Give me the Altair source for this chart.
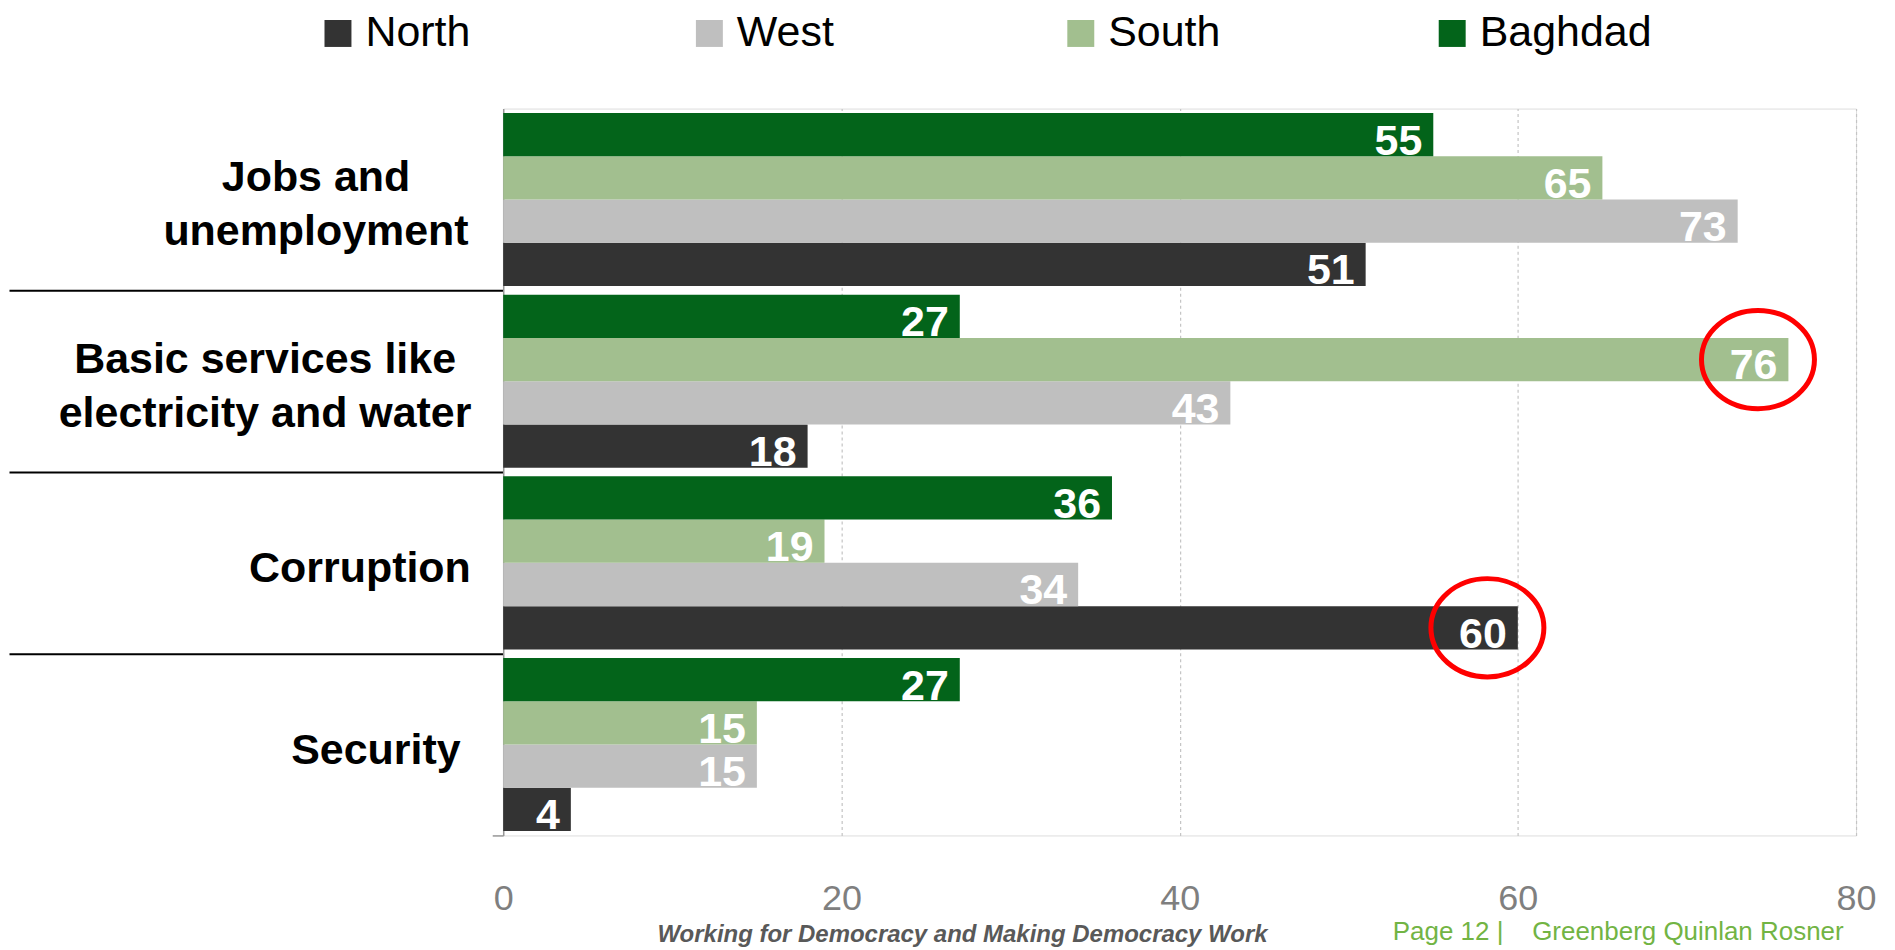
import altair as alt
import pandas as pd

# ---------------- data ----------------
CATEGORIES = [
    "Jobs and unemployment",
    "Basic services like electricity and water",
    "Corruption",
    "Security",
]
LABEL_LINES = {
    "Jobs and unemployment": ["Jobs and", "unemployment"],
    "Basic services like electricity and water": ["Basic services like", "electricity and water"],
}
REGIONS = ["North", "West", "South", "Baghdad"]          # legend order
BAR_ORDER = ["Baghdad", "South", "West", "North"]        # top-to-bottom inside a group
NORTH = [51, 18, 60, 4]
WEST = [73, 43, 34, 15]
SOUTH = [65, 76, 19, 15]
BAGHDAD = [55, 27, 36, 27]
HIGHLIGHTS = [
    ("Basic services like electricity and water", "South"),
    ("Corruption", "North"),
]
X_TICKS = [0, 20, 40, 60, 80]
FOOTER_LEFT = "Working for Democracy and Making Democracy Work"
FOOTER_RIGHT = "Page 12 |\u00a0\u00a0\u00a0 Greenberg Quinlan Rosner"

# ---------------- styling ----------------
COLORS = ["#333333", "#bfbfbf", "#a2bf8f", "#03641a"]
FONT = "Liberation Sans"
W, H = 1355, 728
TICK_LONG = 495
TICK_SHORT = 11
LINE_H = 54
# distance (px) from the y axis to the centre of each category label block
LABEL_CENTER = {
    "Jobs and unemployment": 188,
    "Basic services like electricity and water": 239,
    "Corruption": 144,
    "Security": 128,
}

rows = []
for region, vals in zip(REGIONS, [NORTH, WEST, SOUTH, BAGHDAD]):
    for cat, v in zip(CATEGORIES, vals):
        rows.append({"category": cat, "region": region, "value": v})
df = pd.DataFrame(rows)
hl = df.merge(pd.DataFrame(HIGHLIGHTS, columns=["category", "region"]))


def q(s):
    return "'" + s.replace("'", "\\'") + "'"


label_expr = ""
for cat, lines in LABEL_LINES.items():
    label_expr += "datum.value === %s ? [%s] : " % (q(cat), ", ".join(q(l) for l in lines))
label_expr += "datum.label"

last = CATEGORIES[-1]
is_last = "datum.value === %s" % q(last)
pad_conditions = []
for cat in CATEGORIES:
    size = TICK_SHORT if cat == last else TICK_LONG
    pad_conditions.append({"test": "datum.value === %s" % q(cat), "value": LABEL_CENTER[cat] - size})
offset_conditions = []
for cat, lines in LABEL_LINES.items():
    offset_conditions.append(
        {"test": "datum.value === %s" % q(cat), "value": 6 - (len(lines) - 1) * LINE_H / 2}
    )

y_axis = alt.Axis(
    title=None,
    grid=False,
    domainColor="#969696",
    domainWidth=1.5,
    ticks=True,
    bandPosition=1,
    tickSize={"condition": {"test": is_last, "value": TICK_SHORT}, "value": TICK_LONG},
    tickColor={"condition": {"test": is_last, "value": "#969696"}, "value": "#000000"},
    tickWidth={"condition": {"test": is_last, "value": 1.5}, "value": 2},
    labelExpr=label_expr,
    labelAlign="center",
    labelBaseline="middle",
    labelPadding={"condition": pad_conditions, "value": 20},
    labelOffset={"condition": offset_conditions, "value": 6},
    labelFont=FONT,
    labelFontWeight="bold",
    labelFontSize=43,
    labelColor="#000000",
    labelLineHeight=LINE_H,
    labelLimit=800,
)

x_axis = alt.Axis(
    title=None,
    values=X_TICKS,
    domain=False,
    ticks=False,
    grid=True,
    gridColor="#c4c4c4",
    gridDash=[3, 3],
    gridWidth=1.2,
    gridOpacity={"condition": {"test": "datum.value === 0", "value": 0}, "value": 1},
    labelColor="#7f7f7f",
    labelFont=FONT,
    labelFontSize=36,
    labelPadding=46,
    labelFlush=False,
)

Y = alt.Y("category:N", sort=CATEGORIES, scale=alt.Scale(paddingInner=0, paddingOuter=0), axis=y_axis)
YOFF = alt.YOffset("region:N", sort=BAR_ORDER, scale=alt.Scale(paddingInner=0, paddingOuter=0.1))
X = alt.X("value:Q", scale=alt.Scale(domain=[0, 80], nice=False, zero=True), axis=x_axis)

base = alt.Chart(df)

bars = base.mark_bar().encode(
    x=X,
    y=Y,
    yOffset=YOFF,
    color=alt.Color(
        "region:N",
        scale=alt.Scale(domain=REGIONS, range=COLORS),
        legend=alt.Legend(
            title=None,
            orient="none",
            legendX=-187,
            legendY=-97,
            direction="horizontal",
            columns=4,
            gridAlign="all",
            columnPadding=150,
            padding=0,
            symbolType="square",
            symbolSize=729,
            symbolStrokeWidth=0,
            symbolOpacity=1,
            labelFont=FONT,
            labelFontSize=43,
            labelColor="#000000",
            labelOffset=6,
            labelLimit=400,
        ),
    ),
)

labels = base.mark_text(
    align="right",
    baseline="alphabetic",
    dx=-11,
    dy=20,
    color="white",
    font=FONT,
    fontWeight="bold",
    fontSize=43,
).encode(
    x=alt.X("value:Q"),
    y=alt.Y("category:N", sort=CATEGORIES),
    yOffset=alt.YOffset("region:N", sort=BAR_ORDER),
    text=alt.Text("value:Q"),
)

ELLIPSE = "M -1 0 A 1 0.87 0 1 1 1 0 A 1 0.87 0 1 1 -1 0 Z"
circles = alt.Chart(hl).transform_calculate(cx="datum.value - 1.8").mark_point(
    shape=ELLIPSE,
    size=12800,
    filled=False,
    stroke="#ff0000",
    strokeWidth=5,
    opacity=1,
).encode(
    x=alt.X("cx:Q"),
    y=alt.Y("category:N", sort=CATEGORIES),
    yOffset=alt.YOffset("region:N", sort=BAR_ORDER),
)

foot_left = alt.Chart(pd.DataFrame({"t": [FOOTER_LEFT]})).mark_text(
    align="center",
    baseline="alphabetic",
    font=FONT,
    fontSize=24,
    fontWeight="bold",
    fontStyle="italic",
    color="#595959",
).encode(x=alt.value(460), y=alt.value(835), text="t:N")

foot_right = alt.Chart(pd.DataFrame({"t": [FOOTER_RIGHT]})).mark_text(
    align="left",
    baseline="alphabetic",
    font=FONT,
    fontSize=26,
    color="#72b444",
).encode(x=alt.value(891), y=alt.value(833), text="t:N")

chart = (
    alt.layer(bars, labels, circles, foot_left, foot_right)
    .properties(width=W, height=H, padding={"left": 0, "top": 3, "right": 10, "bottom": 0})
    .configure_view(stroke=None)
    .configure(background="white")
)

chart.save("out.html", embed_options={"renderer": "svg", "actions": False})
